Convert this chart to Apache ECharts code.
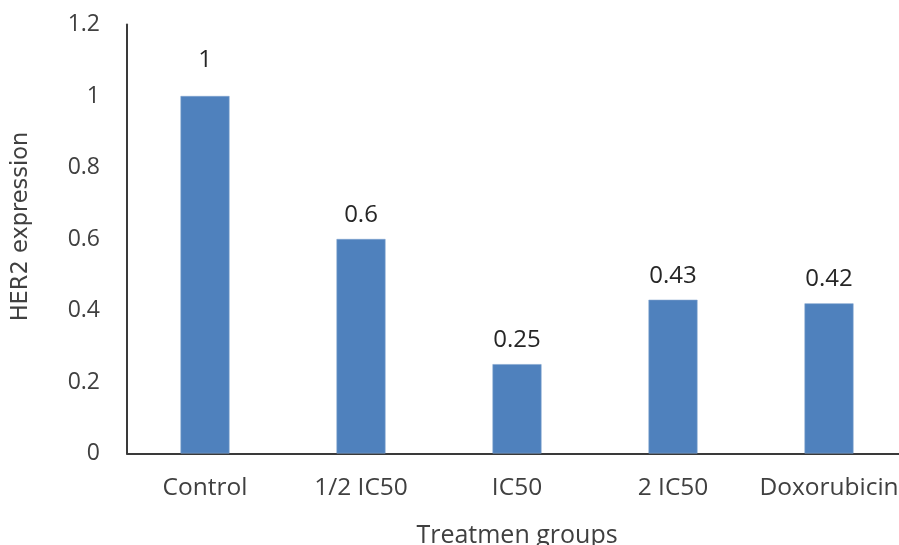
<!DOCTYPE html>
<html>
<head>
<meta charset="utf-8">
<script src="https://cdn.jsdelivr.net/npm/echarts@6/dist/echarts.min.js"></script>
<style>
  html, body { margin: 0; padding: 0; background: #fff; }
  #chart { width: 899px; height: 545px; }
</style>
</head>
<body>
<div id="chart"></div>
<script>
// HER2 expression by treatment group
const categories = ['Control', '1/2 IC50', 'IC50', '2 IC50', 'Doxorubicin'];
const her2Values = [1, 0.6, 0.25, 0.43, 0.42];
const yTicks = [0, 0.2, 0.4, 0.6, 0.8, 1, 1.2];

const labelFont = '"Open Sans", sans-serif';

const chart = echarts.init(document.getElementById('chart'), null, { renderer: 'canvas' });

chart.setOption({
  animation: false,
  backgroundColor: '#ffffff',
  grid: {
    left: 127, top: 24.5, width: 780, height: 429,
    containLabel: false,
    outerBoundsMode: 'none'
  },
  xAxis: {
    type: 'category',
    data: categories,
    axisLine: { show: true, lineStyle: { color: '#3a3a3a', width: 2 } },
    axisTick: { show: false },
    axisLabel: { interval: 0, color: '#404040', fontFamily: labelFont, fontSize: 24.5, margin: 22, hideOverlap: false },
    name: 'Treatmen groups',
    nameLocation: 'middle',
    nameGap: 70,
    nameTextStyle: { color: '#404040', fontFamily: labelFont, fontSize: 25 }
  },
  yAxis: {
    type: 'value',
    min: yTicks[0],
    max: yTicks[yTicks.length - 1],
    interval: 0.2,
    splitLine: { show: false },
    axisLine: { show: true, lineStyle: { color: '#3a3a3a', width: 2 } },
    axisTick: { show: false },
    axisLabel: {
      color: '#404040', fontFamily: labelFont, fontSize: 23, margin: 27,
      formatter: v => String(Math.round(v * 10) / 10)
    }
  },
  graphic: [{
    type: 'text',
    x: 21,
    y: 226.5,
    rotation: Math.PI / 2,
    style: {
      text: 'HER2 expression',
      fill: '#404040',
      font: '22.5px "DejaVu Sans", sans-serif',
      align: 'center',
      verticalAlign: 'middle'
    }
  }],
  series: [{
    type: 'bar',
    data: her2Values.map((v, i) => ({
      value: v,
      label: { distance: i === 0 ? 24 : 12 }
    })),
    barWidth: 49,
    itemStyle: { color: '#4f81bd', borderColor: '#7fa3cf', borderWidth: 0.6 },
    label: {
      show: true,
      position: 'top',
      color: '#262626',
      fontFamily: labelFont,
      fontSize: 24,
      formatter: p => String(p.value)
    }
  }]
});
</script>
</body>
</html>
